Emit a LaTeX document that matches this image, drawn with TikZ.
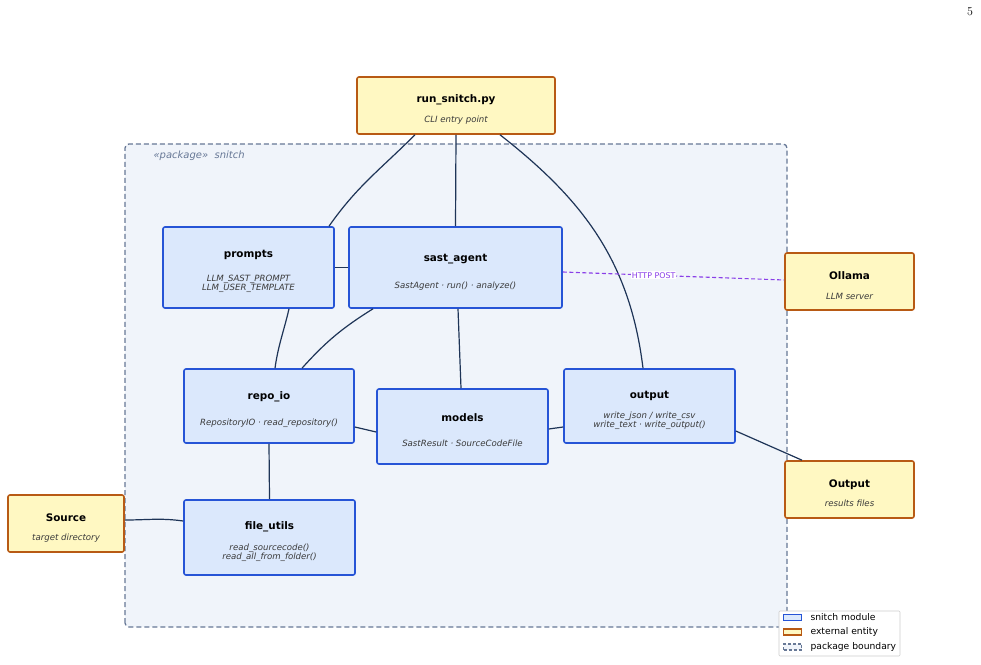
\documentclass[tikz,border=0pt]{standalone}
\usepackage{fontspec}
\setsansfont{DejaVu Sans}
\usetikzlibrary{arrows.meta,calc,positioning}
\definecolor{snitchblue}{HTML}{2654D6}
\definecolor{snitchbluefill}{HTML}{DBE8FC}
\definecolor{extorange}{HTML}{B85A14}
\definecolor{extorangefill}{HTML}{FFF8C2}
\definecolor{pkgline}{HTML}{677896}
\definecolor{pkgfill}{HTML}{F0F4FA}
\definecolor{edgeink}{HTML}{1E3457}
\definecolor{httppurple}{HTML}{8A3FE8}
\definecolor{subink}{HTML}{3A3A3A}
\definecolor{legline}{HTML}{CCCCCC}
\newcommand{\ttl}[1]{\rule{0pt}{16pt}\textbf{#1}}
\newcommand{\subtxt}[1]{{\fontsize{8.6}{10}\selectfont\itshape\color{subink}#1}}
\tikzset{
  modbox/.style={draw=snitchblue, fill=snitchbluefill, rounded corners=2pt,
    line width=1.6pt, align=center, inner sep=0pt,
    font=\sffamily\fontsize{10.4}{12}\selectfont, text=black},
  extbox/.style={draw=extorange, fill=extorangefill, rounded corners=2pt,
    line width=1.6pt, align=center, inner sep=0pt,
    font=\sffamily\fontsize{10.4}{12}\selectfont, text=black},
  depline/.style={draw=edgeink, line width=1.2pt},
  httpline/.style={draw=httppurple, line width=1.1pt, dash pattern=on 4pt off 2.5pt},
  httplabel/.style={font=\sffamily\fontsize{7.9}{9}\selectfont, text=httppurple,
    fill=white, inner sep=1pt},
  pkgbox/.style={draw=pkgline, fill=pkgfill, rounded corners=4pt,
    line width=1.3pt, dash pattern=on 5pt off 3pt},
  legtext/.style={font=\sffamily\fontsize{9.2}{11}\selectfont, text=black, anchor=west},
  legswatch/.style={minimum width=18pt, minimum height=6pt, inner sep=0pt,
    line width=1.3pt}
}

\begin{document}
\begin{tikzpicture}[x=1pt,y=1pt]
  \useasboundingbox (0,0) rectangle (981,664);
  \node[font=\rmfamily\fontsize{12}{14}\selectfont] (pagenum) at (970,652) {5};

  % package boundary
  \draw[pkgbox] (125,37) rectangle (787,520);
  \node[font=\sffamily\fontsize{10}{12}\selectfont\itshape, text=pkgline, anchor=west]
    (pkglabel) at (150,508) {«package»\ \ snitch};

  % external entities
  \node[extbox, minimum width=198pt, minimum height=57pt] (run) at (456,558.5)
    {\ttl{run\_snitch.py}\\[8pt]\subtxt{CLI entry point}};
  \node[extbox, minimum width=129pt, minimum height=57pt] (ollama) at (849.5,382.5)
    {\ttl{Ollama}\\[8pt]\subtxt{LLM server}};
  \node[extbox, minimum width=129pt, minimum height=57pt] (outext) at (849.5,174.5)
    {\ttl{Output}\\[7pt]\subtxt{results files}};
  \node[extbox, minimum width=116pt, minimum height=57pt] (source) at (66,140.5)
    {\ttl{Source}\\[7pt]\subtxt{target directory}};

  % snitch modules
  \node[modbox, minimum width=171pt, minimum height=81pt] (prompts) at (248.5,396.5)
    {\ttl{prompts}\\[12pt]\subtxt{LLM\_SAST\_PROMPT}\\[-3pt]\subtxt{LLM\_USER\_TEMPLATE}};
  \node[modbox, minimum width=213pt, minimum height=81pt] (sast) at (455.5,396.5)
    {\ttl{sast\_agent}\\[15pt]\subtxt{SastAgent · run() · analyze()}};
  \node[modbox, minimum width=170pt, minimum height=74pt] (repoio) at (269,258)
    {\ttl{repo\_io}\\[14pt]\subtxt{RepositoryIO · read\_repository()}};
  \node[modbox, minimum width=171pt, minimum height=75pt] (models) at (462.5,237.5)
    {\ttl{models}\\[13pt]\subtxt{SastResult · SourceCodeFile}};
  \node[modbox, minimum width=171pt, minimum height=74pt] (output) at (649.5,258)
    {\ttl{output}\\[8pt]\subtxt{write\_json / write\_csv}\\[-3pt]\subtxt{write\_text · write\_output()}};
  \node[modbox, minimum width=171pt, minimum height=75pt] (fileutils) at (269.5,126.5)
    {\ttl{file\_utils}\\[9pt]\subtxt{read\_sourcecode()}\\[-3pt]\subtxt{read\_all\_from\_folder()}};

  % dependencies
  \draw[depline] ([xshift=-41pt]run.south) to[out=-135,in=55] ([xshift=80.5pt]prompts.north);
  \draw[depline] (run.south) -- (sast.north);
  \draw[depline] ([xshift=44pt]run.south) to[out=-38,in=97] ([xshift=-6.5pt]output.north);
  \draw[depline] (prompts.east) -- (sast.west);
  \draw[depline] ([xshift=40.5pt]prompts.south) to[out=-103,in=82] ([xshift=6pt]repoio.north);
  \draw[depline] ([xshift=-82.5pt]sast.south) to[out=-148,in=48] ([xshift=33pt]repoio.north);
  \draw[depline] ([xshift=2.5pt]sast.south) -- ([xshift=-1.5pt]models.north);
  \draw[depline] ([yshift=-21pt]repoio.east) -- ([yshift=-5.5pt]models.west);
  \draw[depline] ([yshift=-2.5pt]models.east) -- ([yshift=-21pt]output.west);
  \draw[depline] ([yshift=-25pt]output.east) -- ([xshift=-47.5pt]outext.north);
  \draw[depline] (repoio.south) -- (fileutils.north);
  \draw[depline] ([yshift=3.5pt]source.east) to[out=0,in=172] ([yshift=16.5pt]fileutils.west);
  \draw[httpline] ([yshift=-4.5pt]sast.east) -- node[httplabel, pos=0.41] (httppost) {HTTP POST}
    ([yshift=1.5pt]ollama.west);

  % legend
  \draw[draw=legline, fill=white, rounded corners=1pt, line width=.6pt] (779,8) rectangle (900,53);
  \node[legswatch, draw=snitchblue, fill=snitchbluefill] (legmod) at (792.5,46.5) {};
  \node[legtext] (legmodtxt) at (807,46.5) {snitch module};
  \node[legswatch, draw=extorange, fill=extorangefill] (legext) at (792.5,32) {};
  \node[legtext] (legexttxt) at (807,32) {external entity};
  \node[legswatch, draw=pkgline, fill=pkgfill, dash pattern=on 3pt off 2pt] (legpkg) at (792.5,17) {};
  \node[legtext] (legpkgtxt) at (807,17) {package boundary};
\end{tikzpicture}
\end{document}
